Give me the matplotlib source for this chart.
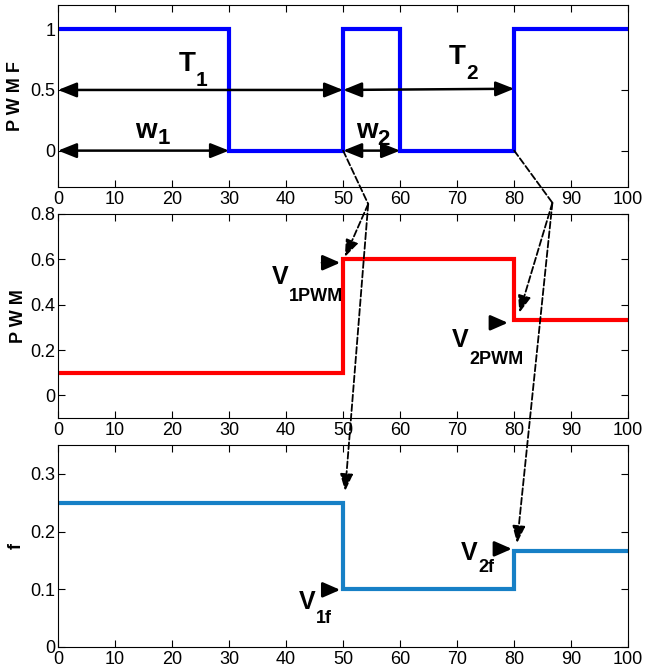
import matplotlib.pyplot as plt
from matplotlib.patches import ConnectionPatch

plt.rcParams['font.family'] = ['Liberation Sans', 'DejaVu Sans']

# signal data
t_pwmf = [0, 30, 50, 60, 80, 100]
pwmf = [1, 0, 1, 0, 1, 1]
t_out = [0, 50, 80, 100]
pwm = [0.1, 0.6, 0.333, 0.333]
f_val = [0.25, 0.1, 0.1667, 0.1667]

xticks = list(range(0, 101, 10))
yt1 = [0, 0.5, 1]
yl1 = ['0', '0.5', '1']
yt2 = [0, 0.2, 0.4, 0.6, 0.8]
yl2 = ['0', '0.2', '0.4', '0.6', '0.8']
yt3 = [0, 0.1, 0.2, 0.3]
yl3 = ['0', '0.1', '0.2', '0.3']

fig = plt.figure(figsize=(6.48, 6.71), dpi=100)
ax1 = fig.add_axes([0.0895, 0.7213, 0.880, 0.2712])
ax2 = fig.add_axes([0.0895, 0.3770, 0.880, 0.3041])
ax3 = fig.add_axes([0.0895, 0.0358, 0.880, 0.3010])

ax1.step(t_pwmf, pwmf, where='post', color='#0000ff', lw=3, solid_joinstyle='miter')
ax2.step(t_out, pwm, where='post', color='#ff0000', lw=3, solid_joinstyle='miter')
ax3.step(t_out, f_val, where='post', color='#1780c6', lw=3, solid_joinstyle='miter')


def style(ax, ylim, yt, yl, label, lx):
    ax.set_xlim(0, 100)
    ax.set_ylim(*ylim)
    ax.set_xticks(xticks)
    ax.set_yticks(yt)
    ax.set_yticklabels(yl)
    ax.tick_params(direction='in', top=True, right=True, length=5,
                   labelsize=13, pad=2)
    ax.tick_params(axis='x', pad=3)
    ax.set_ylabel(label, fontsize=13, fontweight='bold')
    ax.yaxis.set_label_coords(lx, 0.5)


def sublabel(ax, x, y, main, sub, size, subsize, dx, dy):
    # main letter plus a dropped subscript, offsets in pixels
    ax.text(x, y, main, fontsize=size, fontweight='bold', ha='left', va='top')
    ax.annotate(sub, (x, y), xytext=(dx * 0.72, -dy * 0.72),
                textcoords='offset points', fontsize=subsize,
                fontweight='bold', ha='left', va='top')


style(ax1, (-0.3, 1.2), yt1, yl1, 'P W M F', -0.06)
style(ax2, (-0.1, 0.8), yt2, yl2, 'P W M', -0.055)
style(ax3, (0, 0.35), yt3, yl3, 'f', -0.058)

# period / width arrows
dbl = dict(arrowstyle='<|-|>,head_length=0.8,head_width=0.32', color='k',
           lw=1.8, shrinkA=0, shrinkB=0, mutation_scale=14)
ax1.annotate('', xy=(50, 0.5), xytext=(0, 0.5), arrowprops=dbl, annotation_clip=False)
ax1.annotate('', xy=(80, 0.51), xytext=(50, 0.5), arrowprops=dbl, annotation_clip=False)
ax1.annotate('', xy=(30, 0), xytext=(0, 0), arrowprops=dbl, annotation_clip=False)
ax1.annotate('', xy=(60, 0), xytext=(50, 0), arrowprops=dbl, annotation_clip=False)

sublabel(ax1, 21.2, 0.82, 'T', '1', 20, 15, 17, 20)
sublabel(ax1, 68.6, 0.875, 'T', '2', 20, 15, 17, 20)
sublabel(ax1, 13.6, 0.27, 'w', '1', 20, 16, 22, 10)
sublabel(ax1, 52.2, 0.27, 'w', '2', 20, 16, 22, 11)

# value labels with small arrows
small = dict(arrowstyle='-|>,head_length=0.8,head_width=0.35', color='k',
             lw=2, shrinkA=0, shrinkB=0, mutation_scale=13)
ax2.annotate('', xy=(49.5, 0.585), xytext=(46.3, 0.585), arrowprops=small)
ax2.annotate('', xy=(78.9, 0.32), xytext=(76.1, 0.32), arrowprops=small)
ax3.annotate('', xy=(49.5, 0.099), xytext=(46.8, 0.099), arrowprops=small)
ax3.annotate('', xy=(79.6, 0.170), xytext=(76.7, 0.170), arrowprops=small)

sublabel(ax2, 37.5, 0.573, 'V', '1PWM', 18, 13, 17, 23)
sublabel(ax2, 69.1, 0.298, 'V', '2PWM', 18, 13, 17, 23)
sublabel(ax3, 42.3, 0.099, 'V', '1f', 18, 13, 17, 20)
sublabel(ax3, 70.7, 0.183, 'V', '2f', 18, 13, 17, 18)

# dashed links between the panels
seg = dict(arrowstyle='-', linestyle='--', color='k', lw=1.3)
dash = dict(arrowstyle='-|>,head_length=0.8,head_width=0.3', linestyle='--',
            color='k', lw=1.3, mutation_scale=13, shrinkA=0, shrinkB=0)
links = [
    ((50, 0), (54.4, -0.44), (50.3, 0.61), (50.35, 0.27)),
    ((80, 0), (86.7, -0.43), (80.9, 0.364), (80.5, 0.18)),
]
for start, brk, tip2, tip3 in links:
    fig.add_artist(ConnectionPatch(start, brk, ax1.transData, ax1.transData, **seg))
    fig.add_artist(ConnectionPatch(brk, tip2, ax1.transData, ax2.transData, **dash))
    fig.add_artist(ConnectionPatch(brk, tip3, ax1.transData, ax3.transData, **dash))

fig.savefig('out.png', dpi=100)
